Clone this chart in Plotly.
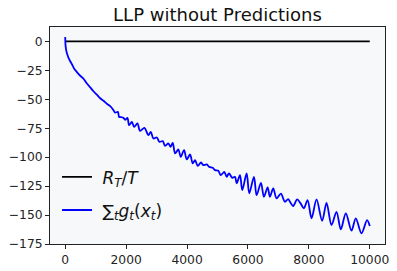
import plotly.graph_objects as go

# Blue series: sum_t g_t(x_t) (peaks and troughs)
sum_x = [0, 10, 33, 66, 108, 164, 220, 295, 384, 492, 600, 705, 820, 928, 1039, 1148,
         1256, 1367, 1475, 1574, 1639, 1728, 1770, 1836, 1911, 1977, 2043, 2098, 2187,
         2262, 2370, 2459, 2600, 2731, 2810, 2895, 3007, 3092, 3203, 3279, 3387, 3460,
         3531, 3607, 3715, 3793, 3902, 3990, 4098, 4187, 4262, 4351, 4459, 4534, 4646,
         4731, 4843, 4918, 5026, 5105, 5223, 5302, 5377, 5485, 5574, 5630, 5738, 5813,
         5957, 6043, 6197, 6285, 6426, 6525, 6646, 6721, 6830, 6941, 7082, 7213, 7321,
         7400, 7485, 7616, 7728, 7836, 7957, 8088, 8252, 8436, 8580, 8744, 8908, 9049,
         9213, 9400, 9541, 9728, 9911, 10000]
sum_y = [3.7, -3.4, -7.8, -11.2, -14.2, -17.2, -19.8, -23.7, -26.5, -29.7, -32.3, -36.2,
         -39.7, -43.1, -46.1, -49.1, -51.3, -53.9, -56.0, -59.0, -61.5, -60.9, -65.3,
         -65.5, -66.1, -67.7, -66.1, -72.4, -69.6, -73.9, -70.9, -77.3, -74.7, -81.0,
         -78.2, -83.9, -83.0, -86.8, -86.2, -90.3, -88.2, -91.0, -87.7, -96.8, -93.4,
         -99.7, -94.0, -102.0, -97.7, -105.4, -102.6, -107.5, -104.6, -106.9, -106.3,
         -108.4, -109.2, -111.2, -111.8, -115.5, -112.7, -117.0, -114.1, -117.8, -117.0,
         -122.7, -115.5, -128.4, -114.1, -131.3, -117.0, -132.8, -122.2, -134.2, -126.1,
         -134.2, -127.0, -135.6, -131.5, -138.5, -136.2, -139.4, -142.2, -136.5, -139.9,
         -144.2, -137.1, -152.8, -136.5, -154.9, -139.4, -158.6, -147.2, -162.3, -148.5,
         -163.5, -152.8, -165.8, -154.3, -159.5]

# Black series: R_T / T
rt_x = [0, 2500, 5000, 7500, 10000]
rt_y = [0.0, 0.0, 0.0, 0.0, 0.0]

x_ticks = [0, 2000, 4000, 6000, 8000, 10000]
x_tick_labels = ["0", "2000", "4000", "6000", "8000", "10000"]
y_ticks = [0, -25, -50, -75, -100, -125, -150, -175]
y_tick_labels = ["0", "−25", "−50", "−75", "−100", "−125", "−150", "−175"]

fig = go.Figure()
fig.add_trace(go.Scatter(
    x=rt_x, y=rt_y, mode="lines", line=dict(color="black", width=1.6),
    legendgroup="a",
    name="\u00a0<i>R</i><sub><i>T</i></sub>/<i>T</i>"))
fig.add_trace(go.Scatter(
    x=sum_x, y=sum_y, mode="lines",
    line=dict(color="#0000ff", width=1.8, shape="spline", smoothing=0.9),
    legendgroup="b",
    name="\u00a0∑<sub><i>t</i></sub><i>g</i><sub><i>t</i></sub>(<i>x</i><sub><i>t</i></sub>)"))

axis_common = dict(showgrid=False, zeroline=False, showline=True, mirror=True,
                   linecolor="#222222", linewidth=1, ticks="outside", ticklen=4,
                   tickcolor="#222222", automargin=False,
                   tickfont=dict(size=12.3, color="#222222"))

# page body has an 8px default margin, so the figure is offset by 8px
fig.update_layout(
    width=389, height=263,
    margin=dict(l=42, r=12, t=19, b=27),
    paper_bgcolor="white", plot_bgcolor="#f6f8fa",
    font=dict(family="DejaVu Sans", color="#222222"),
    title=dict(text="LLP without Predictions", x=209.5 / 389, xanchor="center",
               y=1 - 7 / 263, yanchor="middle", font=dict(size=18, color="#111111")),
    xaxis=dict(range=[-500, 10500], tickvals=x_ticks, ticktext=x_tick_labels, **axis_common),
    yaxis=dict(range=[-175, 12.4], tickvals=y_ticks, ticktext=y_tick_labels, **axis_common),
    showlegend=True,
    legend=dict(x=0.021, y=0.39, xanchor="left", yanchor="top",
                bgcolor="rgba(0,0,0,0)", font=dict(size=17, color="#111111"),
                tracegroupgap=8),
)

fig.write_html("out.html")
